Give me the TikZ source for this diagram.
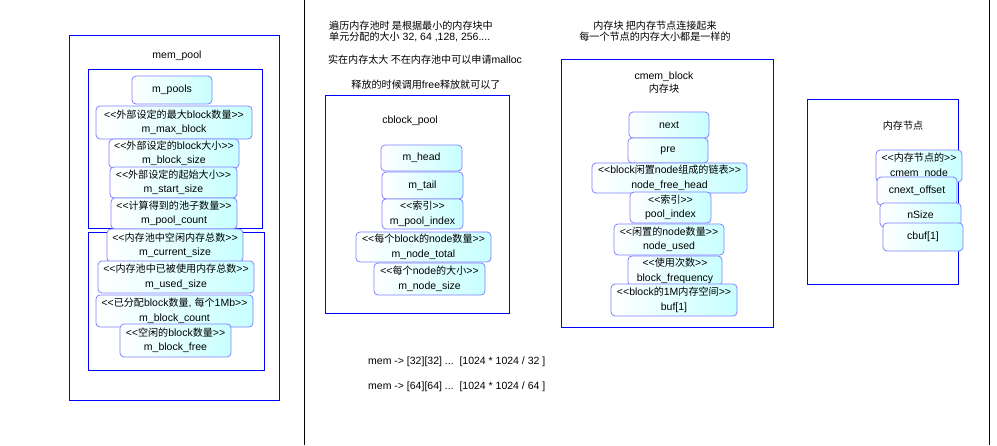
\documentclass[tikz,border=0pt]{standalone}
\usepackage{fontspec}
\setmainfont{Liberation Sans}[Ligatures=TeXOff]
\newfontfamily\cjkfont{Noto Sans CJK SC}[Scale=0.96]
\newcommand\zh[1]{{\cjkfont #1}}
\definecolor{panelblue}{RGB}{0,0,255}
\definecolor{fldborder}{RGB}{128,128,255}
\definecolor{fldfill}{RGB}{200,255,255}
\tikzset{
  panel/.style={draw=panelblue, line width=1pt},
  fld/.style={draw=fldborder, rounded corners=4pt, left color=white, right color=fldfill,
    inner sep=0pt, align=center, line width=0.8pt, font=\fontsize{10.5}{14.5}\selectfont},
  lbl/.style={inner sep=0pt, align=center},
}
\newcommand\fld[6]{%
  \pgfmathsetmacro\fw{#4-#2}\pgfmathsetmacro\fh{#5-#3}%
  \pgfmathsetmacro\fx{(#2+#4)/2}\pgfmathsetmacro\fy{(#3+#5)/2}%
  \node[fld,minimum width=\fw pt,minimum height=\fh pt] (#1) at (\fx,\fy) {#6};}
\begin{document}
\begin{tikzpicture}[x=1pt,y=-1pt,font=\fontsize{10.5}{14.5}\selectfont]
\useasboundingbox (0,0) rectangle (997,445);
% separator lines
\draw[line width=1pt] (304.5,0) -- (304.5,445);
\draw[line width=1pt] (989,0) -- (989,445);
% panels
\draw[panel] (69,35) rectangle (279,400);
\draw[panel] (88,69) rectangle (262,228);
\draw[panel] (88,232) rectangle (264,370);
\draw[panel] (325,95) rectangle (509,313);
\draw[panel] (561,59) rectangle (773,327);
\draw[panel] (807,99) rectangle (958,284);
% labels
\node[lbl] (lmem) at (177,56) {mem\_pool};
\node[lbl] (lcbp) at (410,121) {cblock\_pool};
\node[lbl,font=\fontsize{10.5}{13}\selectfont] (lcmb) at (664,82.5) {cmem\_block\\\zh{内存块}};
\node[lbl] (lnode) at (903,126) {\zh{内存节点}};
% texts
\node[lbl,anchor=west,align=left,font=\fontsize{10.5}{11.6}\selectfont] (t1) at (329,31.5)
  {\zh{遍历内存池时 是根据最小的内存块中}\\\zh{单元分配的大小} 32, 64 ,128, 256....};
\node[lbl] (t2) at (425,60) {\zh{实在内存太大 不在内存池中可以申请}malloc};
\node[lbl] (t3) at (426,85) {\zh{释放的时候调用}free\zh{释放就可以了}};
\node[lbl,font=\fontsize{10.5}{11.6}\selectfont] (t4) at (655,31)
  {\zh{内存块 把内存节点连接起来}\\\zh{每一个节点的内存大小都是一样的}};
\node[lbl,anchor=west] (t5) at (368,362) {mem -> [32][32] ...\ \ [1024 * 1024 / 32 ]};
\node[lbl,anchor=west] (t6) at (368,387) {mem -> [64][64] ...\ \ [1024 * 1024 / 64 ]};
% mem_pool fields
\fld{pools}{132}{76}{212}{104}{m\_pools}
\fld{maxb}{96}{106}{252}{139}{<<\zh{外部设定的最大}block\zh{数量}>>\\m\_max\_block}
\fld{bsize}{109}{139}{239}{168}{<<\zh{外部设定的}block\zh{大小}>>\\m\_block\_size}
\fld{ssize}{110}{167}{237}{198}{<<\zh{外部设定的起始大小}>>\\m\_start\_size}
\fld{pcount}{111}{198}{237}{229}{<<\zh{计算得到的池子数量}>>\\m\_pool\_count}
\fld{csize}{107}{229}{243}{262}{<<\zh{内存池中空闲内存总数}>>\\m\_current\_size}
\fld{usize}{98}{261}{254}{293}{<<\zh{内存池中已被使用内存总数}>>\\m\_used\_size}
\fld{bcount}{96}{295}{253}{327}{<<\zh{已分配}block\zh{数量}, \zh{每个}1Mb>>\\m\_block\_count}
\fld{bfree}{120}{324}{231}{357}{<<\zh{空闲的}block\zh{数量}>>\\m\_block\_free}
% cblock_pool fields
\fld{head}{381}{145}{462}{171}{m\_head}
\fld{tail}{382}{172}{463}{199}{m\_tail}
\fld{pidx}{382}{199}{463}{229}{<<\zh{索引}>>\\m\_pool\_index}
\fld{ntotal}{356}{232}{491}{262}{<<\zh{每个}block\zh{的}node\zh{数量}>>\\m\_node\_total}
\fld{nsize}{374}{263}{485}{295}{<<\zh{每个}node\zh{的大小}>>\\m\_node\_size}
% cmem_block fields
\fld{next}{629}{112}{709}{138}{next}
\fld{pre}{628}{138}{708}{163}{pre}
\fld{nfh}{592}{163}{747}{193}{<<block\zh{闲置}node\zh{组成的链表}>>\\node\_free\_head}
\fld{pidxb}{630}{192}{711}{223}{<<\zh{索引}>>\\pool\_index}
\fld{nused}{614}{224}{724}{255}{<<\zh{闲置的}node\zh{数量}>>\\node\_used}
\fld{bfreq}{628}{256}{722}{286}{<<\zh{使用次数}>>\\block\_frequency}
\fld{buf}{611}{284}{737}{316}{<<block\zh{的}1M\zh{内存空间}>>\\buf[1]}
% node fields
\fld{cmn}{876}{150}{962}{182}{<<\zh{内存节点的}>>\\cmem\_node}
\fld{cno}{877}{177}{957}{205}{cnext\_offset}
\fld{ns}{880}{203}{961}{227}{nSize}
\fld{cb}{883}{223}{963}{251}{cbuf[1]}
\end{tikzpicture}
\end{document}
